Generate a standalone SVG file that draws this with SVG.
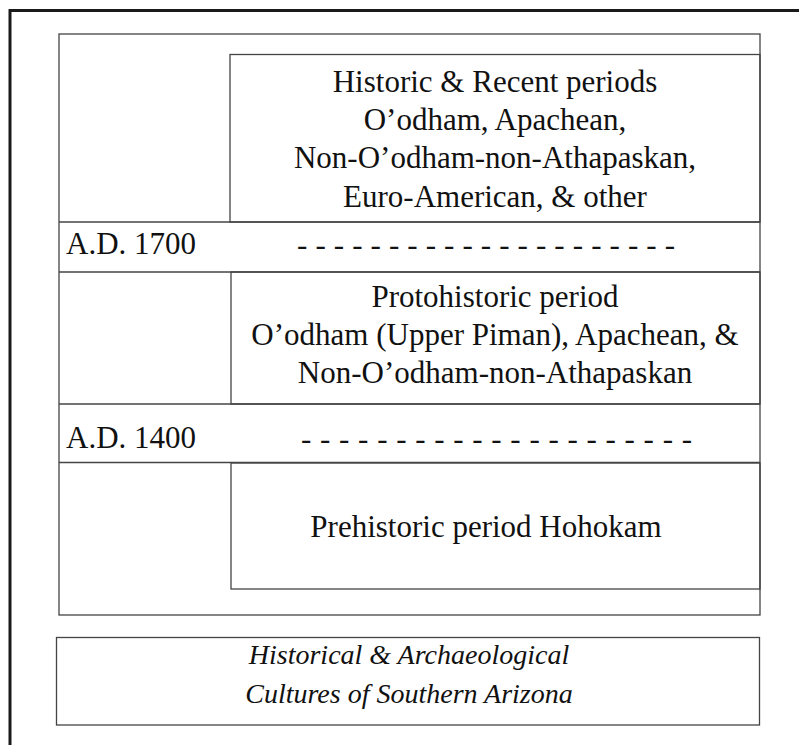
<svg xmlns="http://www.w3.org/2000/svg" width="799" height="745" viewBox="0 0 799 745">
<style>
.frame{fill:none;stroke:#1a1a1a;stroke-width:3}
.box{fill:none;stroke:#444;stroke-width:1.3}
.ln{stroke:#444;stroke-width:1.3;fill:none}
.t{font-family:"Liberation Serif","Times New Roman",serif;font-size:31px;fill:#111}
.c{text-anchor:middle}
.cap{font-family:"Liberation Serif","Times New Roman",serif;font-style:italic;font-size:28px;fill:#111;text-anchor:middle}
</style>
<rect width="799" height="745" fill="#fff"/>
<rect class="frame" x="10" y="10.5" width="820" height="760"/>
<g id="chart">
<rect class="box" x="59" y="34" width="701" height="581"/>
</g>
<g id="connectors">
<line class="ln" x1="59" y1="222" x2="760" y2="222"/>
<line class="ln" x1="59" y1="272" x2="760" y2="272"/>
<line class="ln" x1="59" y1="404" x2="760" y2="404"/>
<line class="ln" x1="59" y1="462.5" x2="760" y2="462.5"/>
</g>
<g id="historic">
<rect class="box" x="230" y="54.5" width="530" height="167.5"/>
<text class="t c" x="495" y="91.7">Historic &amp; Recent periods</text>
<text class="t c" x="495" y="129.5">O’odham, Apachean,</text>
<text class="t c" x="495" y="167.7">Non-O’odham-non-Athapaskan,</text>
<text class="t c" x="495" y="206.5">Euro-American, &amp; other</text>
</g>
<g id="ad1700">
<text class="t" x="66" y="254">A.D. 1700</text>
<text class="t" x="297" y="255" textLength="378" lengthAdjust="spacing">- - - - - - - - - - - - - - - - - - - - -</text>
</g>
<g id="protohistoric">
<rect class="box" x="231" y="272" width="529" height="132"/>
<text class="t c" x="495" y="307.3">Protohistoric period</text>
<text class="t c" x="495" y="345">O’odham (Upper Piman), Apachean, &amp;</text>
<text class="t c" x="495" y="383.3">Non-O’odham-non-Athapaskan</text>
</g>
<g id="ad1400">
<text class="t" x="66" y="447.7">A.D. 1400</text>
<text class="t" x="301" y="449" textLength="391" lengthAdjust="spacing">- - - - - - - - - - - - - - - - - - - - -</text>
</g>
<g id="prehistoric">
<rect class="box" x="231" y="463" width="529" height="126"/>
<text class="t c" x="486" y="537.3">Prehistoric period Hohokam</text>
</g>
<g id="caption">
<rect class="box" x="56.5" y="637.5" width="703" height="87.5"/>
<text class="cap" x="409" y="664">Historical &amp; Archaeological</text>
<text class="cap" x="409" y="702.7">Cultures of Southern Arizona</text>
</g>
</svg>
